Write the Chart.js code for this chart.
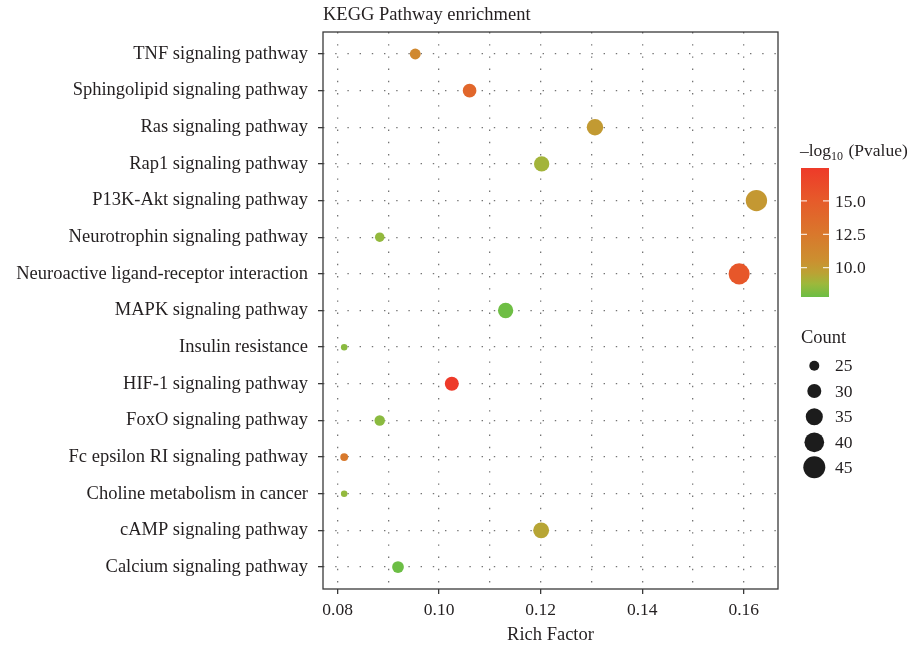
<!DOCTYPE html>
<html><head><meta charset="utf-8">
<script src="https://cdn.jsdelivr.net/npm/chart.js@4"></script>
<style>html,body{margin:0;padding:0;background:#fff}</style>
</head><body>
<canvas id="c" width="914" height="650"></canvas>
<script>
// ---- data ----
const pathways = [
  "TNF signaling pathway",
  "Sphingolipid signaling pathway",
  "Ras signaling pathway",
  "Rap1 signaling pathway",
  "P13K-Akt signaling pathway",
  "Neurotrophin signaling pathway",
  "Neuroactive ligand-receptor interaction",
  "MAPK signaling pathway",
  "Insulin resistance",
  "HIF-1 signaling pathway",
  "FoxO signaling pathway",
  "Fc epsilon RI signaling pathway",
  "Choline metabolism in cancer",
  "cAMP signaling pathway",
  "Calcium signaling pathway"
];
const richFactor = [0.0953, 0.1060, 0.1307, 0.1202, 0.1625, 0.0883, 0.1591, 0.1131, 0.0813, 0.1025, 0.0883, 0.0813, 0.0813, 0.1201, 0.0919];
const counts     = [26, 29.5, 34, 32, 43.5, 24.5, 43, 32, 22, 30, 25.5, 23, 22, 33, 27];
const negLog10P  = [11.2, 14.0, 10.0, 8.95, 10.1, 8.6, 15.3, 7.85, 8.4, 17.47, 8.4, 12.4, 8.6, 9.5, 7.8];
const xTickValues = [0.08, 0.09, 0.10, 0.11, 0.12, 0.13, 0.14, 0.15, 0.16];
const xLabelValues = [0.08, 0.10, 0.12, 0.14, 0.16];
const colorTicks = [10.0, 12.5, 15.0];
const countTicks = [25, 30, 35, 40, 45];

// ---- colour / size scales ----
const cMin = Math.min(...negLog10P), cMax = Math.max(...negLog10P);
const GRAD = [ // fraction of range -> colour
  [0.000, '#6CBE45'],
  [0.103, '#9DB83B'],
  [0.186, '#BBA234'],
  [0.279, '#CB9030'],
  [0.486, '#D9782C'],
  [0.744, '#E65B2A'],
  [1.000, '#EE3A29']
];
function hex2rgb(h){ h=h.replace('#',''); return [0,2,4].map(i=>parseInt(h.substr(i,2),16)); }
const GRAD_RGB = GRAD.map(s=>[s[0], hex2rgb(s[1])]);
function colorFor(v){
  const t = Math.max(0, Math.min(1, (v-cMin)/(cMax-cMin)));
  let i = 0;
  while (i < GRAD_RGB.length-2 && t > GRAD_RGB[i+1][0]) i++;
  const [t0,c0] = GRAD_RGB[i], [t1,c1] = GRAD_RGB[i+1];
  const u = (t-t0)/(t1-t0);
  const c = c0.map((a,k)=>Math.round(a+(c1[k]-a)*u));
  return `rgb(${c[0]},${c[1]},${c[2]})`;
}
function sizeFor(c){ return Math.sqrt(Math.max(4, 25 + 4.8*(c-25))); }

const FONT = '"Liberation Serif", "DejaVu Serif", serif';
const TXT = '#231f20';

const points = richFactor.map((x,i)=>({x:x, y:i+1}));

const decor = {
  id:'decor',
  beforeDatasetsDraw(chart){
    const {ctx, chartArea:a} = chart;
    ctx.save();
    ctx.strokeStyle = '#3a3a3a'; ctx.lineWidth = 1.3;
    ctx.strokeRect(a.left, a.top, a.right-a.left, a.bottom-a.top);
    ctx.restore();
  },
  afterDraw(chart){
    const {ctx, chartArea:a} = chart;
    ctx.save();
    ctx.fillStyle = TXT;
    ctx.textBaseline = 'alphabetic';
    ctx.textAlign = 'left';
    ctx.font = `18.5px ${FONT}`;
    ctx.fillText('KEGG Pathway enrichment', a.left, 20);

    // colour bar
    const bx = 801, bw = 28, btop = 168, bbot = 297;
    const yOf = v => bbot - (v-cMin)/(cMax-cMin)*(bbot-btop);
    const g = ctx.createLinearGradient(0, bbot, 0, btop);
    GRAD.forEach(s => g.addColorStop(s[0], s[1]));
    ctx.fillStyle = g;
    ctx.fillRect(bx, btop, bw, bbot-btop);
    ctx.strokeStyle = 'rgba(255,255,255,0.8)'; ctx.lineWidth = 1.2;
    ctx.fillStyle = TXT; ctx.textBaseline = 'middle';
    ctx.font = `17.5px ${FONT}`;
    colorTicks.forEach(v=>{
      const y = yOf(v);
      ctx.beginPath(); ctx.moveTo(bx, y); ctx.lineTo(bx+6, y); ctx.moveTo(bx+bw-6, y); ctx.lineTo(bx+bw, y); ctx.stroke();
      ctx.fillText(v.toFixed(1), 835, y+1);
    });
    // colour title
    ctx.textBaseline = 'alphabetic';
    ctx.font = `17.5px ${FONT}`;
    let tx = 800;
    ctx.fillText('\u2013log', tx, 156); tx += ctx.measureText('\u2013log').width;
    ctx.font = `12px ${FONT}`;
    ctx.fillText('10', tx, 160); tx += ctx.measureText('10').width + 1;
    ctx.font = `17.5px ${FONT}`;
    ctx.fillText(' (Pvalue)', tx, 156);

    // size legend
    ctx.font = `18.5px ${FONT}`;
    ctx.fillText('Count', 801, 343);
    ctx.font = `17.5px ${FONT}`;
    const ys = [365.7, 391, 416.7, 442.3, 467.3];
    countTicks.forEach((c,i)=>{
      ctx.fillStyle = '#1c1c1c';
      ctx.beginPath(); ctx.arc(814.3, ys[i], sizeFor(c), 0, Math.PI*2); ctx.fill();
      ctx.fillStyle = TXT; ctx.textBaseline = 'middle';
      ctx.fillText(String(c), 835, ys[i]+1);
      ctx.textBaseline = 'alphabetic';
    });
    ctx.restore();
  }
};

new Chart(document.getElementById('c'), {
  type: 'scatter',
  data: { datasets: [{
    data: points,
    pointRadius: counts.map(sizeFor),
    pointHoverRadius: counts.map(sizeFor),
    pointBackgroundColor: negLog10P.map(colorFor),
    pointBorderWidth: 0,
    pointBorderColor: 'rgba(0,0,0,0)'
  }]},
  options: {
    responsive: false,
    animation: false,
    devicePixelRatio: 1,
    layout: { padding: { left: 0, right: 136, top: 32, bottom: 0 } },
    plugins: { legend: { display: false }, tooltip: { enabled: false }, title: { display: false } },
    scales: {
      x: {
        type: 'linear', min: 0.07713, max: 0.16675,
        afterBuildTicks: ax => { ax.ticks = xTickValues.map(v=>({value:v})); },
        afterFit: ax => { ax.height = 61; },
        ticks: {
          color: TXT, font: { family: FONT, size: 17.5 }, padding: 6, maxRotation: 0, autoSkip: false,
          callback: v => xLabelValues.some(m=>Math.abs(m-v)<1e-9) ? v.toFixed(2) : ''
        },
        grid: {
          color: '#747474', lineWidth: 1.3, tickLength: 5, tickWidth: 1.3,
          tickColor: ctx => xLabelValues.some(m=>Math.abs(m-ctx.tick.value)<1e-9) ? '#3a3a3a' : 'rgba(0,0,0,0)'
        },
        border: { display: false, dash: [1.4, 10.8] },
        title: { display: true, text: 'Rich Factor', color: TXT, font: { family: FONT, size: 18.5 }, padding: { top: 0, bottom: 4 } }
      },
      y: {
        type: 'linear', reverse: true, min: 0.4, max: 15.6,
        afterBuildTicks: ax => { ax.ticks = pathways.map((p,i)=>({value:i+1})); },
        afterFit: ax => { ax.width = 323; },
        ticks: {
          color: TXT, font: { family: FONT, size: 18.5 }, padding: 10, autoSkip: false,
          callback: v => pathways[Math.round(v)-1] || ''
        },
        grid: { color: '#747474', lineWidth: 1.3, tickLength: 5, tickWidth: 1.3, tickColor: '#3a3a3a' },
        border: { display: false, dash: [1.4, 10.8] }
      }
    }
  },
  plugins: [decor]
});
</script>
</body></html>
